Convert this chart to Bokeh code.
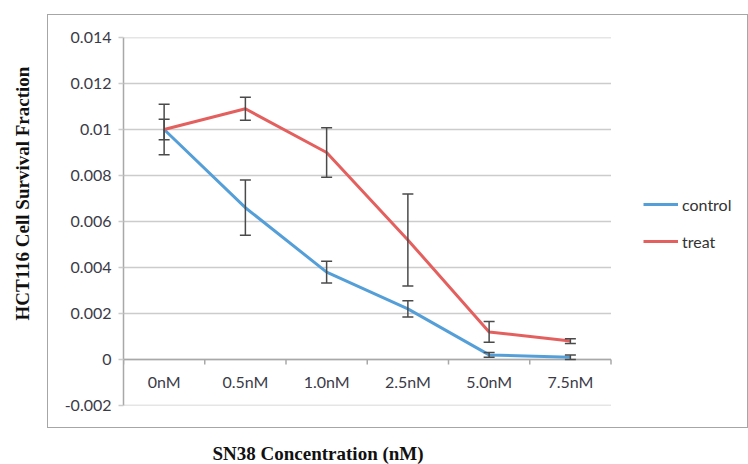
from bokeh.plotting import figure
from bokeh.models import (Range1d, Whisker, TeeHead, ColumnDataSource, Legend, LegendItem, Title,
                          LinearAxis, FixedTicker, CustomJSTickFormatter, InlineStyleSheet)
from bokeh.core.properties import value
from bokeh.embed import file_html
from bokeh.resources import INLINE

# ---- data ----
categories = ["0nM", "0.5nM", "1.0nM", "2.5nM", "5.0nM", "7.5nM"]
control = [0.0100, 0.0066, 0.0038, 0.0022, 0.0002, 0.0001]
control_err = [0.0011, 0.0012, 0.00047, 0.00035, 0.0001, 0.0001]
treat = [0.0100, 0.0109, 0.0090, 0.0052, 0.0012, 0.0008]
treat_err = [0.00045, 0.0005, 0.00108, 0.0020, 0.00045, 0.0001]
y_ticks = [-0.002, 0.0, 0.002, 0.004, 0.006, 0.008, 0.010, 0.012, 0.014]

BLUE = "#559fd9"
RED = "#e4605f"
GRID = "#cccccc"
AXIS = "#a8a8a8"
ERR = "#4a4a4a"
TICK_TXT = "#3b3b48"
SANS = "Lato"
SERIF = "Liberation Serif"

n = len(categories)
x_pos = [i + 0.5 for i in range(n)]          # category centres
bounds = [float(i) for i in range(n + 1)]    # category boundaries
y_lo, y_hi = y_ticks[0], y_ticks[-1]

W, H = 748, 464
LEFT, TOP, BOTTOM = 123, 37, 59
cat_px = 81.25  # pixels per category
x_end = (W - LEFT) / cat_px

p = figure(width=W, height=H,
           x_range=Range1d(0, x_end),
           y_range=Range1d(y_lo, y_hi),
           output_backend="svg", toolbar_location=None,
           min_border_left=LEFT, min_border_right=0,
           min_border_top=TOP, min_border_bottom=BOTTOM)
p.outline_line_color = None
p.xgrid.visible = False
p.ygrid.visible = False

# y axis
p.yaxis.ticker = FixedTicker(ticks=y_ticks)
p.yaxis.formatter = CustomJSTickFormatter(code="return String(Number(tick.toFixed(3)));")
p.yaxis.major_tick_in = 0
p.yaxis.major_tick_out = 5
p.yaxis.major_tick_line_color = GRID
p.yaxis.major_tick_line_width = 1.5
p.yaxis.minor_tick_line_color = None
p.yaxis.axis_line_color = AXIS
p.yaxis.axis_line_width = 1.5
p.yaxis.major_label_standoff = 7
p.yaxis.major_label_text_font = SANS
p.yaxis.major_label_text_font_size = "16px"
p.yaxis.major_label_text_color = TICK_TXT

# invisible axes used only as spacing between the tick labels and the titles
blank = CustomJSTickFormatter(code="return '';")
spacer_left = LinearAxis(ticker=FixedTicker(ticks=[0.0]), formatter=blank, axis_line_color=None,
                         major_tick_out=29, major_tick_in=0, major_tick_line_color=None,
                         minor_tick_line_color=None, major_label_standoff=0,
                         major_label_text_font_size="1px")
p.add_layout(spacer_left, "left")
p.xaxis.ticker = FixedTicker(ticks=[1.0])
p.xaxis.formatter = CustomJSTickFormatter(code="return '';")
p.xaxis.axis_line_color = None
p.xaxis.major_tick_out = 35
p.xaxis.major_tick_in = 0
p.xaxis.major_tick_line_color = None
p.xaxis.minor_tick_line_color = None
p.xaxis.major_label_standoff = 0
p.xaxis.major_label_text_font_size = "1px"

# axis titles
p.add_layout(Title(text="HCT116 Cell Survival Fraction", align="left", offset=85, standoff=0,
                   text_font=SERIF, text_font_style="bold", text_font_size="19px",
                   text_color="#111111"), "left")
p.add_layout(Title(text="SN38 Concentration (nM)", align="left", offset=89, standoff=0,
                   text_font=SERIF, text_font_style="bold", text_font_size="19px",
                   text_color="#111111"), "below")

# horizontal gridlines over the category span only
grid_src = ColumnDataSource(dict(y=y_ticks, x0=[0.0] * len(y_ticks), x1=[float(n)] * len(y_ticks)))
p.segment(x0="x0", x1="x1", y0="y", y1="y", source=grid_src, line_color=GRID, line_width=1.5)

# x axis line at zero with category boundary ticks
p.segment(x0=[0.0], x1=[float(n)], y0=[0.0], y1=[0.0], line_color=AXIS, line_width=1.5)
p.segment(x0=bounds, x1=bounds, y0=[0.0] * len(bounds), y1=[-0.00022] * len(bounds),
          line_color=AXIS, line_width=1.5)
lab_src = ColumnDataSource(dict(x=x_pos, y=[-0.00096] * n, cat=categories))
p.text(x="x", y="y", text="cat", source=lab_src, text_align="center", text_baseline="middle",
       text_font=value(SANS), text_font_size="16px", text_color=TICK_TXT)

# series
src = ColumnDataSource(dict(
    x=x_pos, control=control, treat=treat,
    c_up=[v + e for v, e in zip(control, control_err)],
    c_lo=[v - e for v, e in zip(control, control_err)],
    t_up=[v + e for v, e in zip(treat, treat_err)],
    t_lo=[v - e for v, e in zip(treat, treat_err)],
))
r_c = p.line(x="x", y="control", source=src, line_color=BLUE, line_width=3)
r_t = p.line(x="x", y="treat", source=src, line_color=RED, line_width=3)

for up, lo in (("c_up", "c_lo"), ("t_up", "t_lo")):
    w = Whisker(base="x", upper=up, lower=lo, source=src, dimension="height",
                line_color=ERR, line_width=1.5, level="overlay",
                upper_head=TeeHead(size=11, line_color=ERR, line_width=1.5),
                lower_head=TeeHead(size=11, line_color=ERR, line_width=1.5))
    p.add_layout(w)

legend = Legend(items=[LegendItem(label="control", renderers=[r_c]),
                       LegendItem(label="treat", renderers=[r_t])],
                location=(520, 154), orientation="vertical",
                glyph_width=35, glyph_height=20, spacing=17, label_standoff=4,
                padding=0, margin=0, border_line_color=None, background_fill_alpha=0,
                label_text_font=SANS, label_text_font_size="16px", label_text_color="#333333")
p.add_layout(legend, "center")

# outer chart box (drawn with CSS around the chart area)
p.stylesheets = [InlineStyleSheet(css="""
:host { position: relative; }
:host::after { content: ''; position: absolute; left: 47px; top: 14px; width: 701px; height: 414px;
  border: 1px solid #a6a6a6; box-sizing: border-box; pointer-events: none; }
""")]

open("out.html", "w").write(file_html(p, INLINE))
